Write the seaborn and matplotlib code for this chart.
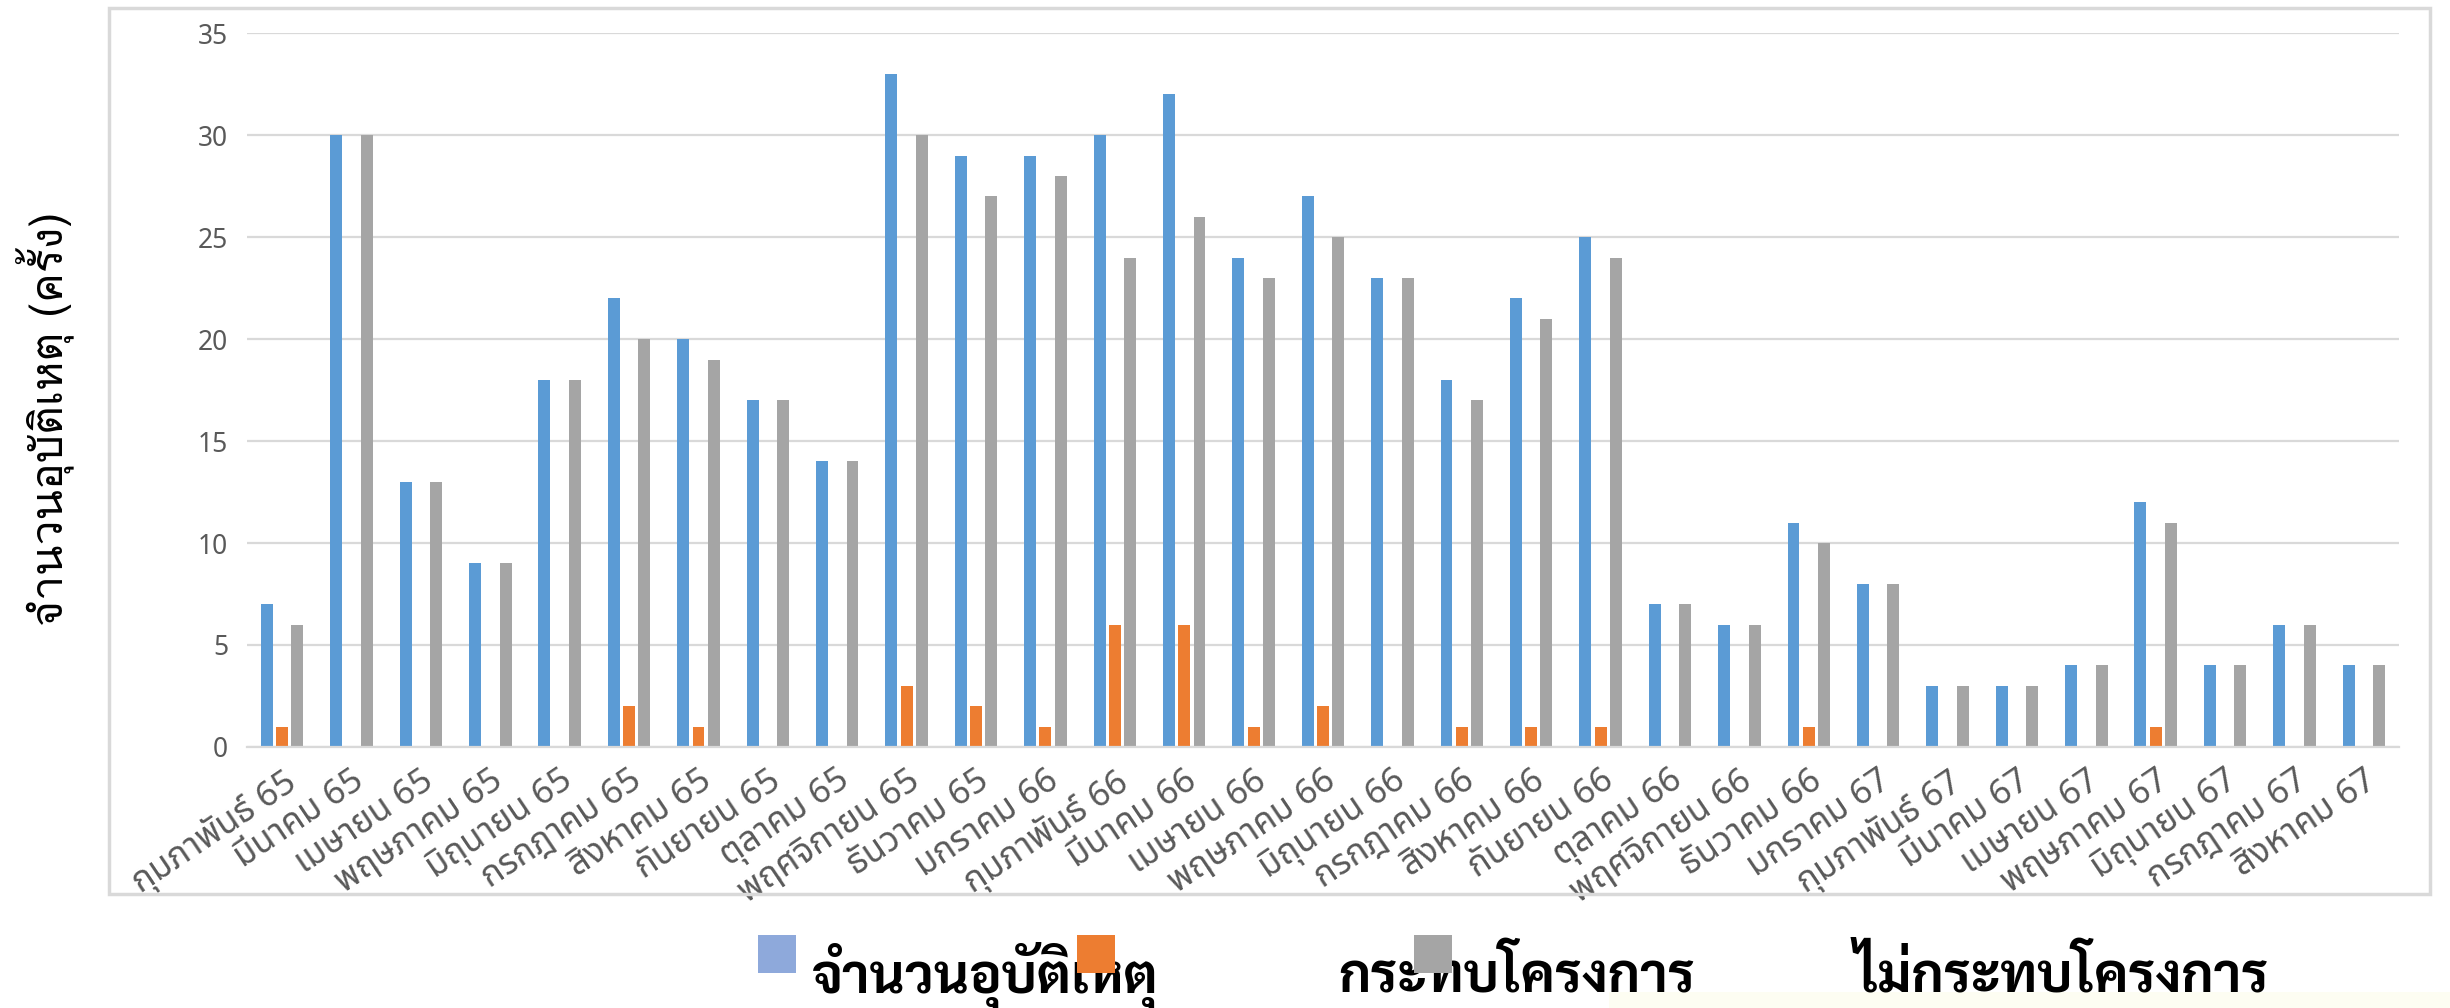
import matplotlib
matplotlib.use("Agg")
import matplotlib.pyplot as plt
from matplotlib import font_manager
from matplotlib.patches import Rectangle
import seaborn as sns
import pandas as pd
import numpy as np

# -----------------------------------------------------------------------------
# DATA (monthly accident counts, Feb 65 - Aug 67)
# -----------------------------------------------------------------------------
months = [
    "กุมภาพันธ์ 65", "มีนาคม 65", "เมษายน 65", "พฤษภาคม 65", "มิถุนายน 65",
    "กรกฎาคม 65", "สิงหาคม 65", "กันยายน 65", "ตุลาคม 65", "พฤศจิกายน 65",
    "ธันวาคม 65", "มกราคม 66", "กุมภาพันธ์ 66", "มีนาคม 66", "เมษายน 66",
    "พฤษภาคม 66", "มิถุนายน 66", "กรกฎาคม 66", "สิงหาคม 66", "กันยายน 66",
    "ตุลาคม 66", "พฤศจิกายน 66", "ธันวาคม 66", "มกราคม 67", "กุมภาพันธ์ 67",
    "มีนาคม 67", "เมษายน 67", "พฤษภาคม 67", "มิถุนายน 67", "กรกฎาคม 67",
    "สิงหาคม 67",
]
total_accidents = [7, 30, 13, 9, 18, 22, 20, 17, 14, 33, 29, 29, 30, 32, 24,
                   27, 23, 18, 22, 25, 7, 6, 11, 8, 3, 3, 4, 12, 4, 6, 4]
affects_project = [1, 0, 0, 0, 0, 2, 1, 0, 0, 3, 2, 1, 6, 6, 1,
                   2, 0, 1, 1, 1, 0, 0, 1, 0, 0, 0, 0, 1, 0, 0, 0]
no_project_impact = [6, 30, 13, 9, 18, 20, 19, 17, 14, 30, 27, 28, 24, 26, 23,
                     25, 23, 17, 21, 24, 7, 6, 10, 8, 3, 3, 4, 11, 4, 6, 4]

series_names = ["จำนวนอุบัติเหตุ", "กระทบโครงการ", "ไม่กระทบโครงการ"]
y_ticks = [0, 5, 10, 15, 20, 25, 30, 35]

# -----------------------------------------------------------------------------
# STYLING
# -----------------------------------------------------------------------------
BAR_COLORS = ["#5B9BD5", "#ED7D31", "#A5A5A5"]
LEGEND_COLORS = ["#8EA9DB", "#ED7D31", "#A5A5A5"]
GRID = "#D9D9D9"
TEXT_GRAY = "#595959"

sns.set_theme(style="white")

available = {f.name for f in font_manager.fontManager.ttflist}


def pick(cands):
    return [c for c in cands if c in available] + ["DejaVu Sans"]


tick_font = pick(["Noto Sans Thai", "Anuphan", "Sarabun"])
label_font = pick(["Loma", "Noto Sans Thai Looped", "Sarabun", "Noto Sans Thai"])
legend_font = pick(["Sarabun", "Noto Sans Thai Looped", "Noto Sans Thai", "Anuphan"])
plt.rcParams["font.family"] = tick_font

df = pd.DataFrame({
    "month": months,
    series_names[0]: total_accidents,
    series_names[1]: affects_project,
    series_names[2]: no_project_impact,
}).melt(id_vars="month", var_name="series", value_name="count")

fig = plt.figure(figsize=(24.5, 10.08), dpi=100)
ax = fig.add_axes([0.101, 0.259, 0.878, 0.708])

sns.barplot(data=df, x="month", y="count", hue="series", hue_order=series_names,
            palette=BAR_COLORS, saturation=1, width=0.66, gap=0.22,
            linewidth=0, legend=False, ax=ax)

# axes cosmetics (Excel-like)
ax.set_xlim(-0.5, len(months) - 0.5)
ax.set_ylim(0, 35)
ax.set_yticks(y_ticks)
ax.set_xlabel("")
ax.set_ylabel("")
ax.yaxis.grid(True, color=GRID, linewidth=1.6)
ax.set_axisbelow(True)
for side in ["left", "right", "top"]:
    ax.spines[side].set_visible(False)
ax.spines["bottom"].set_color(GRID)
ax.spines["bottom"].set_linewidth(1.6)

ax.tick_params(axis="y", length=0, labelsize=19, labelcolor=TEXT_GRAY, pad=14)
ax.tick_params(axis="x", which="major", length=0, labelsize=25,
               labelcolor=TEXT_GRAY, pad=12)
ax.set_xticks(np.arange(-0.5, len(months), 1), minor=True)
ax.tick_params(axis="x", which="minor", length=9, width=1.6, color=GRID,
               direction="out")
plt.setp(ax.get_xticklabels(), rotation=34, ha="right", rotation_mode="anchor")

# y axis title
fig.text(0.0185, 0.584, "จำนวนอุบัติเหตุ (ครั้ง)", rotation=90, ha="center",
         va="center", fontsize=32, fontweight="normal", color="black",
         family=label_font)

# chart border
fig.patches.append(Rectangle((109 / 2450, 1 - 894 / 1008), (2430 - 109) / 2450,
                             (894 - 8) / 1008, transform=fig.transFigure,
                             fill=False, edgecolor=GRID, linewidth=2.5))

# faint band at bottom right
fig.patches.append(Rectangle((1609 / 2450, 0), 1 - 1609 / 2450, 16 / 1008,
                             transform=fig.transFigure, facecolor="#FDFDF2",
                             edgecolor="none", zorder=0))

# legend (as laid out in the original, labels shifted against the keys)
key_x = [758, 1077, 1414]
label_x = [812, 1338, 1853]
for kx, c in zip(key_x, LEGEND_COLORS):
    fig.patches.append(Rectangle((kx / 2450, 1 - 973 / 1008), 38 / 2450, 38 / 1008,
                                 transform=fig.transFigure, facecolor=c,
                                 edgecolor="none", zorder=5))
for lx, name in zip(label_x, series_names):
    fig.text(lx / 2450, 1 - 992 / 1008, name, ha="left", va="baseline",
             fontsize=39, fontweight="bold", color="black", family=legend_font,
             zorder=3)

fig.savefig("out.png", dpi=100)
plt.close(fig)
